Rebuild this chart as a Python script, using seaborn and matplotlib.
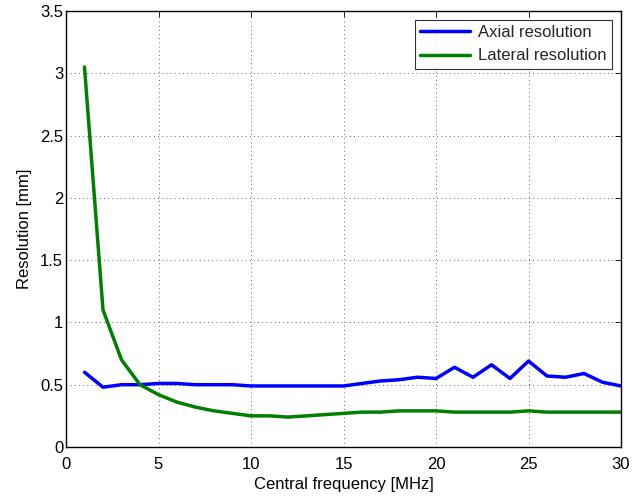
import matplotlib
matplotlib.use("Agg")
import matplotlib.pyplot as plt
import seaborn as sns
import pandas as pd

# Central frequencies [MHz]
frequency = list(range(1, 31))

# Axial resolution [mm]
axial = [0.60, 0.48, 0.50, 0.50, 0.51, 0.51, 0.50, 0.50, 0.50, 0.49,
         0.49, 0.49, 0.49, 0.49, 0.49, 0.51, 0.53, 0.54, 0.56, 0.55,
         0.64, 0.56, 0.66, 0.55, 0.69, 0.57, 0.56, 0.59, 0.52, 0.49]

# Lateral resolution [mm]
lateral = [3.05, 1.10, 0.70, 0.50, 0.42, 0.36, 0.32, 0.29, 0.27, 0.25,
           0.25, 0.24, 0.25, 0.26, 0.27, 0.28, 0.28, 0.29, 0.29, 0.29,
           0.28, 0.28, 0.28, 0.28, 0.29, 0.28, 0.28, 0.28, 0.28, 0.28]

series_names = ["Axial resolution", "Lateral resolution"]
series_colors = ["#0000ff", "#008000"]

xticks = [0, 5, 10, 15, 20, 25, 30]
yticks = [0, 0.5, 1, 1.5, 2, 2.5, 3, 3.5]
ytick_labels = ["0", "0.5", "1", "1.5", "2", "2.5", "3", "3.5"]

df = pd.DataFrame({
    "freq": frequency * 2,
    "res": axial + lateral,
    "kind": [series_names[0]] * len(axial) + [series_names[1]] * len(lateral),
})

sns.set_theme(style="white")
plt.rcParams["font.family"] = ["Liberation Sans", "DejaVu Sans"]
plt.rcParams["font.size"] = 12

fig = plt.figure(figsize=(6.42, 4.97), dpi=100)
ax = fig.add_axes([66 / 642, 50 / 497, (621 - 66) / 642, (447 - 11) / 497])

sns.lineplot(data=df, x="freq", y="res", hue="kind",
             palette=dict(zip(series_names, series_colors)),
             linewidth=2.5, ax=ax, legend=True)

ax.set_xlim(0, 30)
ax.set_ylim(0, 3.5)
ax.set_xticks(xticks)
ax.set_xticklabels([str(t) for t in xticks])
ax.set_yticks(yticks)
ax.set_yticklabels(ytick_labels)
ax.grid(True, linestyle=(0, (1, 4)), color="black", linewidth=0.6, alpha=0.8)
ax.tick_params(direction="in", length=4, width=0.6, colors="black",
               top=True, right=True, labelsize=12)
ax.tick_params(axis="x", pad=7)
ax.tick_params(axis="y", pad=2)
for s in ax.spines.values():
    s.set_color("black")
    s.set_linewidth(1.0)

ax.set_xlabel("Central frequency [MHz]", fontsize=12, color="black", labelpad=4)
ax.set_ylabel("Resolution [mm]", fontsize=12, color="black", labelpad=6)

leg = ax.legend(loc="upper right", frameon=True, fancybox=False,
                edgecolor="black", fontsize=12, handlelength=3.0,
                borderaxespad=0.55, labelspacing=0.5, handletextpad=0.5,
                borderpad=0.3)
leg.get_frame().set_linewidth(0.8)
leg.set_title(None)

fig.savefig("out.png", dpi=100)
